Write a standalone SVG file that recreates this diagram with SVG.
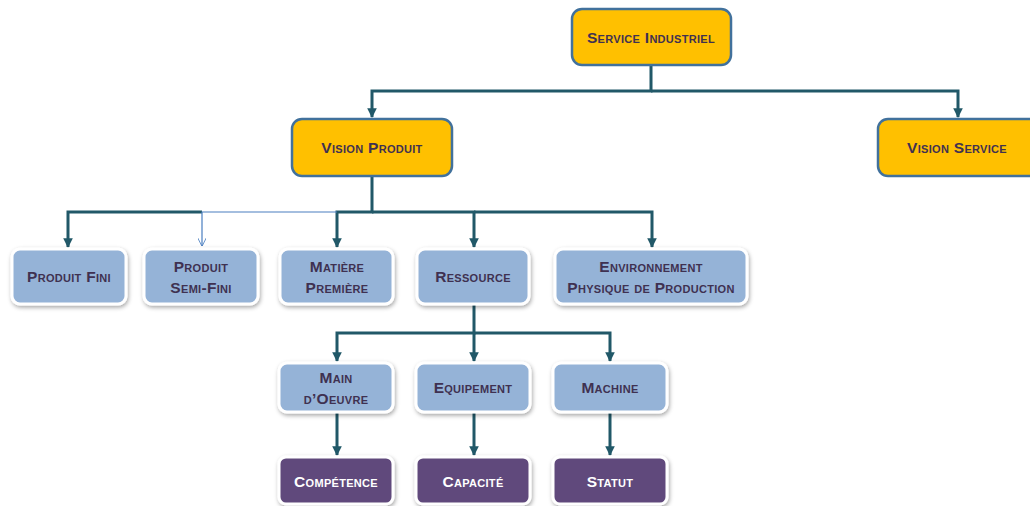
<svg xmlns="http://www.w3.org/2000/svg" width="1030" height="506" viewBox="0 0 1030 506">
<defs>
<style>
.gold{fill:#FFC000;stroke:#41719C;stroke-width:2.5}
.blue{fill:#95B3D7;stroke:#FFFFFF;stroke-width:3;filter:url(#sh)}
.purp{fill:#604A7B;stroke:#FFFFFF;stroke-width:3;filter:url(#sh)}
text{font-family:"Liberation Sans",Arial,sans-serif;font-weight:bold;font-variant:small-caps;font-size:15.5px;letter-spacing:0.3px;text-anchor:middle;dominant-baseline:central}
.dk{fill:#3F3151}
.wt{fill:#FFFFFF}
.con{fill:none;stroke:#215868;stroke-width:3}
.thin{fill:none;stroke:#4A7EC0;stroke-width:1.2}
</style>
<filter id="sh" x="-20%" y="-20%" width="140%" height="150%">
<feDropShadow dx="1" dy="2" stdDeviation="2" flood-color="#000" flood-opacity="0.35"/>
</filter>
<marker id="ah" viewBox="0 0 10 10" refX="9" refY="5" markerWidth="3.2" markerHeight="3.2" orient="auto" markerUnits="strokeWidth">
<path d="M0,0 L10,5 L0,10 z" fill="#215868"/>
</marker>
<marker id="oa" viewBox="0 0 10 10" refX="9.5" refY="5" markerWidth="7" markerHeight="7" orient="auto" markerUnits="strokeWidth">
<path d="M0,0 L10,5 L0,10" fill="none" stroke="#4A7EC0" stroke-width="1"/>
</marker>
</defs>
<g id="connectors">
<path class="con" d="M651,65 V91 H372 V117" marker-end="url(#ah)"/>
<path class="con" d="M651,91 H958 V117" marker-end="url(#ah)"/>
<path class="con" d="M372,176 V212 H337 V247" marker-end="url(#ah)"/>
<path class="con" d="M372,212 H474 V247" marker-end="url(#ah)"/>
<path class="con" d="M474,212 H652 V247" marker-end="url(#ah)"/>
<path class="con" d="M202,212 H68 V247" marker-end="url(#ah)"/>
<path class="thin" d="M337,212 H202 V246" marker-end="url(#oa)"/>
<path class="con" d="M474,304 V333 H337 V361" marker-end="url(#ah)"/>
<path class="con" d="M474,333 V361" marker-end="url(#ah)"/>
<path class="con" d="M474,333 H610 V361" marker-end="url(#ah)"/>
<path class="con" d="M337,412 V455" marker-end="url(#ah)"/>
<path class="con" d="M474,412 V455" marker-end="url(#ah)"/>
<path class="con" d="M610,412 V455" marker-end="url(#ah)"/>
</g>
<g id="service-industriel"><rect class="gold" x="572" y="9" width="159" height="56" rx="10"/><text class="dk" x="651" y="37">Service Industriel</text></g>
<g id="vision-produit"><rect class="gold" x="292" y="119" width="160" height="57" rx="10"/><text class="dk" x="372" y="147">Vision Produit</text></g>
<g id="vision-service"><rect class="gold" x="878" y="119" width="170" height="57" rx="10"/><text class="dk" x="957" y="147">Vision Service</text></g>
<g id="produit-fini"><rect class="blue" x="12" y="249" width="114" height="55" rx="8"/><text class="dk" x="69" y="276">Produit Fini</text></g>
<g id="produit-semi-fini"><rect class="blue" x="144" y="249" width="114" height="55" rx="8"/><text class="dk" x="201" y="266">Produit</text><text class="dk" x="201" y="287">Semi-Fini</text></g>
<g id="matiere-premiere"><rect class="blue" x="280" y="249" width="113" height="55" rx="8"/><text class="dk" x="337" y="266">Matière</text><text class="dk" x="337" y="287">Première</text></g>
<g id="ressource"><rect class="blue" x="417" y="249" width="112" height="55" rx="8"/><text class="dk" x="473" y="276">Ressource</text></g>
<g id="environnement"><rect class="blue" x="555" y="249" width="192" height="55" rx="8"/><text class="dk" x="651" y="266">Environnement</text><text class="dk" x="651" y="287">Physique de Production</text></g>
<g id="main-oeuvre"><rect class="blue" x="279" y="363" width="114" height="49" rx="8"/><text class="dk" x="336" y="377">Main</text><text class="dk" x="336" y="398">d’Oeuvre</text></g>
<g id="equipement"><rect class="blue" x="416" y="363" width="114" height="49" rx="8"/><text class="dk" x="473" y="387">Equipement</text></g>
<g id="machine"><rect class="blue" x="553" y="363" width="114" height="49" rx="8"/><text class="dk" x="610" y="387">Machine</text></g>
<g id="competence"><rect class="purp" x="279" y="457" width="114" height="47" rx="7"/><text class="wt" x="336" y="481">Compétence</text></g>
<g id="capacite"><rect class="purp" x="416" y="457" width="114" height="47" rx="7"/><text class="wt" x="473" y="481">Capacité</text></g>
<g id="statut"><rect class="purp" x="553" y="457" width="114" height="47" rx="7"/><text class="wt" x="610" y="481">Statut</text></g>
</svg>
